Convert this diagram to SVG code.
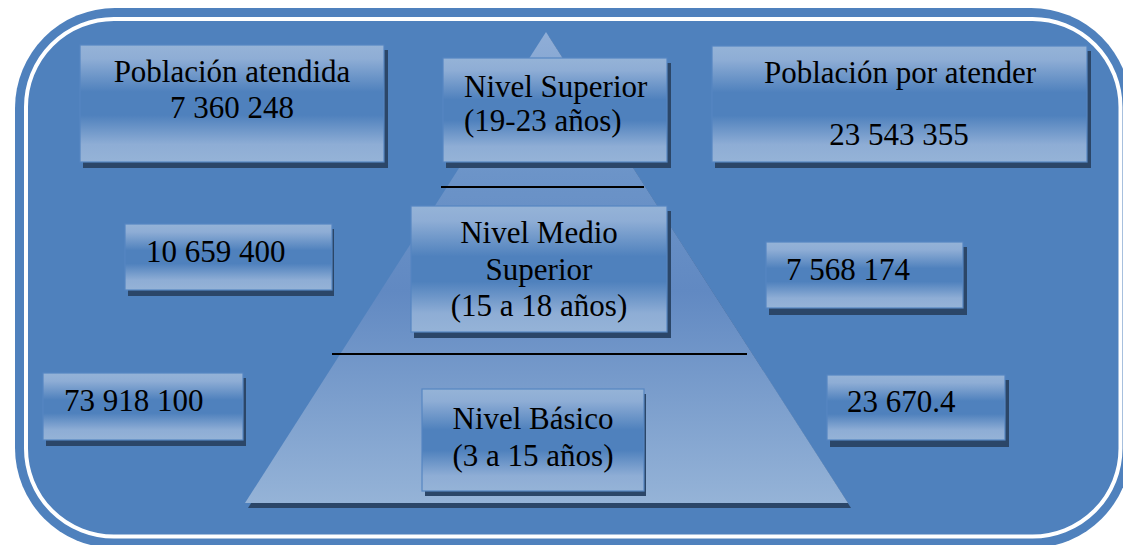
<svg xmlns="http://www.w3.org/2000/svg" width="1123" height="545" viewBox="0 0 1123 545">
  <defs>
    <linearGradient id="boxGrad" x1="0" y1="0" x2="0" y2="1">
      <stop offset="0" stop-color="#95B3D7"/>
      <stop offset="0.12" stop-color="#8EADD5"/>
      <stop offset="0.4" stop-color="#4F81BD"/>
      <stop offset="0.6" stop-color="#4F81BD"/>
      <stop offset="0.85" stop-color="#8EADD5"/>
      <stop offset="1" stop-color="#95B3D7"/>
    </linearGradient>
    <linearGradient id="pyrGrad" gradientUnits="userSpaceOnUse" x1="0" y1="32" x2="0" y2="503">
      <stop offset="0" stop-color="#90AED7"/>
      <stop offset="0.3" stop-color="#6C94C8"/>
      <stop offset="0.55" stop-color="#6189C2"/>
      <stop offset="1" stop-color="#95B3D7"/>
    </linearGradient>
    <style>
      .box { fill: url(#boxGrad); stroke: #5686C2; stroke-width: 1.2; }
      .shadow { fill: #2B4668; }
      .t { font-family: "Liberation Serif", "Times New Roman", serif; font-size: 31px; fill: #000; }
      .c { text-anchor: middle; }
      .sep { stroke: #000; stroke-width: 2; }
    </style>
  </defs>

  <rect width="1123" height="545" fill="#FFFFFF"/>

  <g id="frame">
    <rect x="15" y="8" width="1116" height="540" rx="100" ry="100" fill="#4F81BD"/>
    <rect x="26" y="19" width="1094.5" height="517.5" rx="88" ry="88" fill="none" stroke="#FFFFFF" stroke-width="4"/>
  </g>

  <g id="pyramid">
    <polygon class="shadow" points="549,37 851,508 248,508"/>
    <polygon points="546,32 848,503 245,503" fill="url(#pyrGrad)"/>
  </g>

  <g id="level-lines">
    <line class="sep" x1="441" y1="187" x2="644" y2="187"/>
    <line class="sep" x1="332" y1="354" x2="747" y2="354"/>
  </g>

  <g id="poblacion-atendida">
    <rect class="shadow" x="83" y="50" width="305" height="118"/>
    <rect class="box" x="80" y="45" width="304" height="117"/>
    <text class="t c" x="232" y="82">Población atendida</text>
    <text class="t c" x="232" y="118">7 360 248</text>
  </g>

  <g id="nivel-superior">
    <rect class="shadow" x="446" y="63" width="225" height="105"/>
    <rect class="box" x="443" y="58" width="224" height="104"/>
    <text class="t" x="464" y="97">Nivel Superior</text>
    <text class="t" x="464" y="131">(19-23 años)</text>
  </g>

  <g id="poblacion-por-atender">
    <rect class="shadow" x="715" y="51" width="376" height="117"/>
    <rect class="box" x="712" y="46" width="375" height="116"/>
    <text class="t c" x="900" y="83">Población por atender</text>
    <text class="t c" x="899" y="145">23 543 355</text>
  </g>

  <g id="atendida-medio">
    <rect class="shadow" x="128" y="229" width="206" height="67"/>
    <rect class="box" x="125" y="224" width="207" height="66"/>
    <text class="t" x="146" y="262">10 659 400</text>
  </g>

  <g id="nivel-medio-superior">
    <rect class="shadow" x="414" y="211" width="257" height="127"/>
    <rect class="box" x="411" y="206" width="256" height="126"/>
    <text class="t c" x="539" y="243">Nivel Medio</text>
    <text class="t c" x="539" y="280">Superior</text>
    <text class="t c" x="539" y="316">(15 a 18 años)</text>
  </g>

  <g id="por-atender-medio">
    <rect class="shadow" x="769" y="247" width="198" height="68"/>
    <rect class="box" x="766" y="242" width="197" height="66"/>
    <text class="t" x="786" y="280">7 568 174</text>
  </g>

  <g id="atendida-basico">
    <rect class="shadow" x="46" y="378" width="200" height="68"/>
    <rect class="box" x="43" y="373" width="200" height="67"/>
    <text class="t" x="64" y="411">73 918 100</text>
  </g>

  <g id="nivel-basico">
    <rect class="shadow" x="425" y="394" width="221" height="102"/>
    <rect class="box" x="422" y="389" width="222" height="102"/>
    <text class="t c" x="533" y="429">Nivel Básico</text>
    <text class="t c" x="533" y="466">(3 a 15 años)</text>
  </g>

  <g id="por-atender-basico">
    <rect class="shadow" x="830" y="380" width="179" height="67"/>
    <rect class="box" x="827" y="375" width="178" height="65"/>
    <text class="t" x="847" y="412">23 670.4</text>
  </g>
</svg>
